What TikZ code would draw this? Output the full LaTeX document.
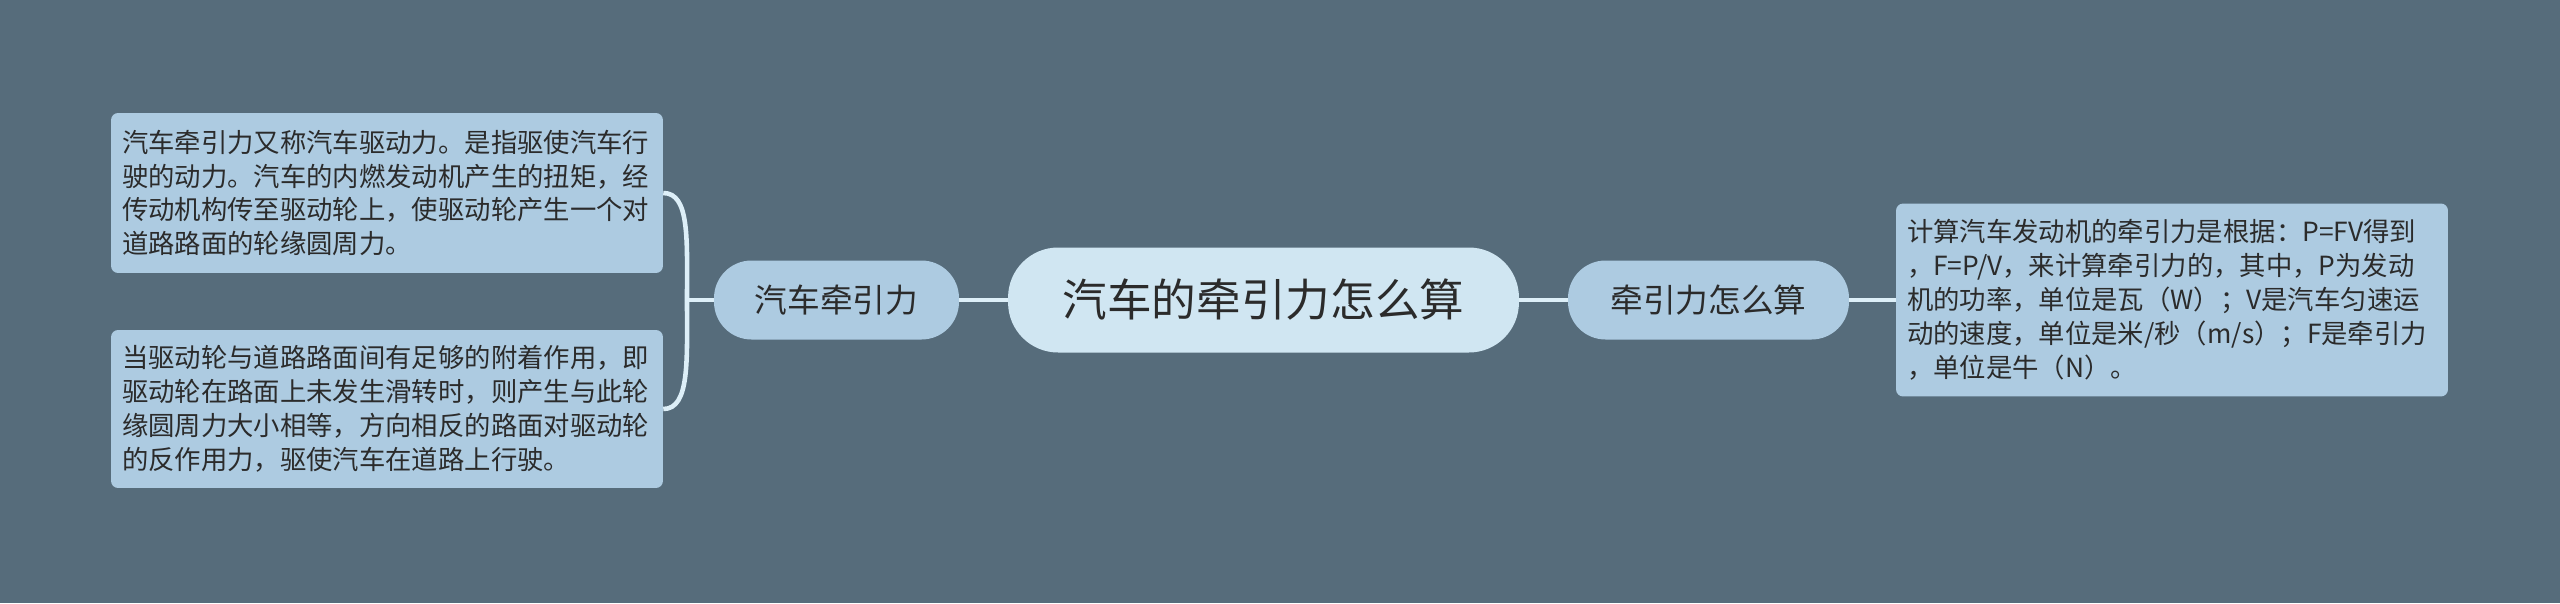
\documentclass[tikz,border=0pt]{standalone}
\usepackage{fontspec}
\setmainfont{Noto Sans CJK SC}
\definecolor{bgcol}{HTML}{566C7B}
\definecolor{leafcol}{HTML}{ADCBE1}
\definecolor{rootcol}{HTML}{D0E6F2}
\definecolor{txtcol}{HTML}{2B2B2B}
\definecolor{linecol}{HTML}{DDEFF8}
\begin{document}
\begin{tikzpicture}[x=0.02cm,y=-0.02cm,
    every node/.style={text=txtcol},
    leaf/.style={fill=leafcol,rounded corners=4pt,text width=10.6cm,inner xsep=0.22cm,inner ysep=2pt,
      align=left,font=\fontsize{15}{19.3}\selectfont},
    topic/.style={fill=leafcol,rounded corners=0.75cm,minimum height=1.58cm,font=\fontsize{18.6}{22}\selectfont},
    root/.style={fill=rootcol,rounded corners=1cm,minimum height=2.1cm,minimum width=10.22cm,font=\fontsize{25.4}{30}\selectfont},
    link/.style={draw=linecol,line width=2.6pt}]
  \path[fill=bgcol] (0,0) rectangle (2560,603);
  % centre and the two branches
  \node[root] (car) at (1263.5,300) {汽车的牵引力怎么算};
  \node[topic,minimum width=4.9cm] (pull) at (836.5,300) {汽车牵引力};
  \node[topic,minimum width=5.62cm] (calc) at (1708.5,300) {牵引力怎么算};
  % leaves
  \node[leaf,minimum height=3.2cm] (def) at (387,193) {汽车牵引力又称汽车驱动力。是指驱使汽车行\\
驶的动力。汽车的内燃发动机产生的扭矩，经\\
传动机构传至驱动轮上，使驱动轮产生一个对\\
道路路面的轮缘圆周力。};
  \node[leaf,minimum height=3.16cm] (grip) at (387,409) {当驱动轮与道路路面间有足够的附着作用，即\\
驱动轮在路面上未发生滑转时，则产生与此轮\\
缘圆周力大小相等，方向相反的路面对驱动轮\\
的反作用力，驱使汽车在道路上行驶。};
  \node[leaf,minimum height=3.86cm] (formula) at (2172,300) {计算汽车发动机的牵引力是根据：P=FV得到\\
，F=P/V，来计算牵引力的，其中，P为发动\\
机的功率，单位是瓦（W）；V是汽车匀速运\\
动的速度，单位是米/秒（m/s）；F是牵引力\\
，单位是牛（N）。};
  \coordinate (fork) at (687,300);
  \begin{scope}[link]
    \draw (car) -- (pull);
    \draw (car) -- (calc);
    \draw (calc) -- (formula);
    \draw (pull) -- (fork);
    \draw (def.east) .. controls (690,193) and (687,240) .. (fork);
    \draw (grip.east) .. controls (690,409) and (687,360) .. (fork);
  \end{scope}
\end{tikzpicture}
\end{document}
